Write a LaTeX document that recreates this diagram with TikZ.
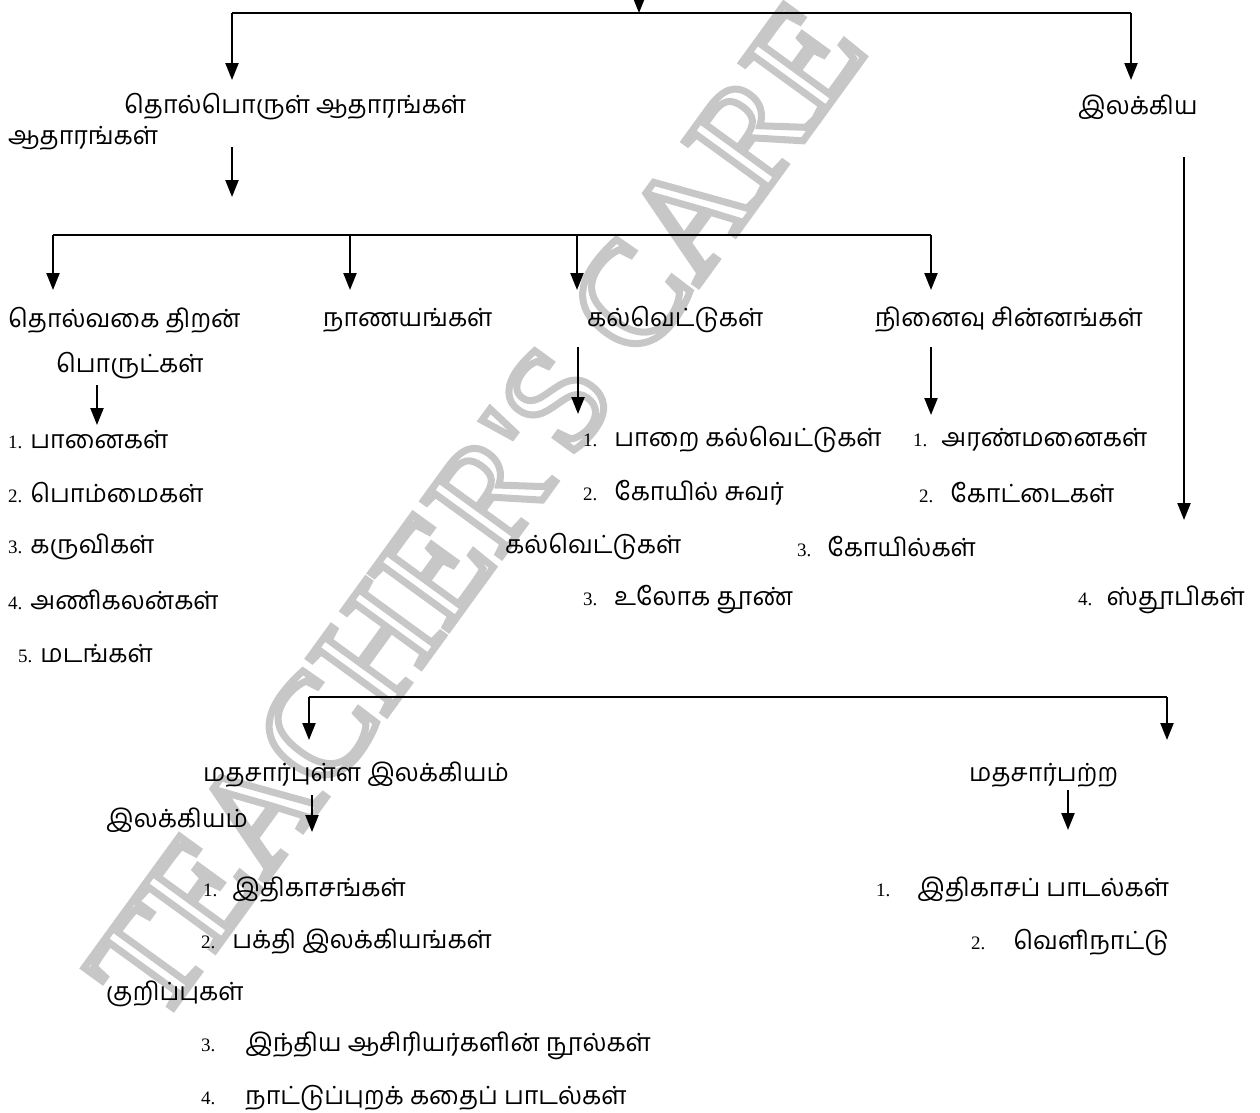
\documentclass[tikz,border=0pt]{standalone}
\usepackage{fontspec}
\setmainfont{Liberation Serif}
\newfontfamily\tamil[Script=Tamil]{Hind Madurai}
\newfontfamily\numfnt{Liberation Serif}
\newfontfamily\wmfnt{Liberation Serif}
\usetikzlibrary{arrows.meta}
\tikzset{
  lbl/.style={anchor=west, inner sep=0pt, font=\tamil\fontsize{25}{29}\selectfont},
  arr/.style={line width=2.2pt, -{Triangle[length=17pt,width=13pt]}},
  bar/.style={line width=2.2pt},
  wmark/.style={rotate=54, text=black!22, inner sep=0pt, font=\wmfnt\fontsize{146}{146}\selectfont},
}
\newcommand\nm[2][10pt]{{\numfnt\fontsize{19}{21}\selectfont #2}\hspace{#1}}
\begin{document}
\begin{tikzpicture}[x=1pt,y=-1pt]
  \useasboundingbox (0,0) rectangle (1260,1112);
  % Watermark
  \node[wmark] (wm) at (476,510) {\special{pdf:literal direct 1 Tr 7 w}TEACHER'S CARE};
  % Top level
  \coordinate (src) at (639,-20);
  \coordinate (srcend) at (639,13);
  \coordinate (b1l) at (232,13);
  \coordinate (b1r) at (1131,13);
  \coordinate (b1lend) at (232,80);
  \coordinate (b1rend) at (1131,80);
  \draw[arr] (src) -- (srcend);
  \draw[bar] (b1l) -- (b1r);
  \draw[arr] (b1l) -- (b1lend);
  \draw[arr] (b1r) -- (b1rend);
  \node[lbl] (thol) at (124,107) {தொல்பொருள் ஆதாரங்கள்};
  \node[lbl] (thola) at (8,138) {ஆதாரங்கள்};
  \node[lbl] (ilak) at (1078,107) {இலக்கிய};
  \coordinate (tholdown) at (232,147);
  \coordinate (tholend) at (232,197);
  \draw[arr] (tholdown) -- (tholend);
  \coordinate (ilakdown) at (1184,157);
  \coordinate (ilakend) at (1184,520);
  \draw[arr] (ilakdown) -- (ilakend);
  % Archaeological sources
  \coordinate (b2l) at (53,235);
  \coordinate (b2a) at (350,235);
  \coordinate (b2b) at (577,235);
  \coordinate (b2r) at (931,235);
  \draw[bar] (b2l) -- (b2r);
  \foreach \c/\x in {b2l/53,b2a/350,b2b/577,b2r/931}{
    \coordinate (\c end) at (\x,290);
    \draw[arr] (\c) -- (\c end);
  }
  \node[lbl] (tholvagai) at (8,320) {தொல்வகை திறன்};
  \node[lbl] (nanayam) at (323,320) {நாணயங்கள்};
  \node[lbl] (kalvettu) at (587,320) {கல்வெட்டுகள்};
  \node[lbl] (ninaivu) at (875,320) {நினைவு சின்னங்கள்};
  \node[lbl] (porul) at (56,366) {பொருட்கள்};
  \coordinate (poruldown) at (97,385);
  \coordinate (porulend) at (97,425);
  \draw[arr] (poruldown) -- (porulend);
  \coordinate (kaldown) at (578,347);
  \coordinate (kalend) at (578,414);
  \draw[arr] (kaldown) -- (kalend);
  \coordinate (ninaidown) at (931,347);
  \coordinate (ninaiend) at (931,415);
  \draw[arr] (ninaidown) -- (ninaiend);
  % Lists
  \node[lbl] (pa1) at (8,440) {\nm[8pt]{1.}பானைகள்};
  \node[lbl] (pa2) at (8,493) {\nm[8pt]{2.}பொம்மைகள்};
  \node[lbl] (pa3) at (8,547) {\nm[8pt]{3.}கருவிகள்};
  \node[lbl] (pa4) at (8,600) {\nm[8pt]{4.}அணிகலன்கள்};
  \node[lbl] (pa5) at (18,654) {\nm[8pt]{5.}மடங்கள்};
  \node[lbl] (ka1) at (583,440) {\nm[17pt]{1.}பாறை கல்வெட்டுகள்};
  \node[lbl] (ka2) at (583,493) {\nm[17pt]{2.}கோயில் சுவர்};
  \node[lbl] (ka2b) at (505,547) {கல்வெட்டுகள்};
  \node[lbl] (ka3) at (583,600) {\nm[17pt]{3.}உலோக தூண்};
  \node[lbl] (ni1) at (913,440) {\nm[14pt]{1.}அரண்மனைகள்};
  \node[lbl] (ni2) at (919,493) {\nm[17pt]{2.}கோட்டைகள்};
  \node[lbl] (ni3) at (797,547) {\nm[16pt]{3.}கோயில்கள்};
  \node[lbl] (ni4) at (1078,600) {\nm[14pt]{4.}ஸ்தூபிகள்};
  % Literary sources
  \coordinate (b3l) at (309,697);
  \coordinate (b3r) at (1167,697);
  \coordinate (b3lend) at (309,740);
  \coordinate (b3rend) at (1167,740);
  \draw[bar] (b3l) -- (b3r);
  \draw[arr] (b3l) -- (b3lend);
  \draw[arr] (b3r) -- (b3rend);
  \node[lbl] (matham) at (203,775) {மதசார்புள்ள இலக்கியம்};
  \node[lbl] (mathamb) at (106,820) {இலக்கியம்};
  \node[lbl] (mathaparra) at (969,775) {மதசார்பற்ற};
  \coordinate (mathdown) at (312,795);
  \coordinate (mathend) at (312,832);
  \draw[arr] (mathdown) -- (mathend);
  \coordinate (parradown) at (1068,790);
  \coordinate (parraend) at (1068,830);
  \draw[arr] (parradown) -- (parraend);
  \node[lbl] (ma1) at (203,890) {\nm[15pt]{1.}இதிகாசங்கள்};
  \node[lbl] (ma2) at (201,942) {\nm[17pt]{2.}பக்தி இலக்கியங்கள்};
  \node[lbl] (ma2b) at (106,994) {குறிப்புகள்};
  \node[lbl] (ma3) at (201,1046) {\nm[30pt]{3.}இந்திய ஆசிரியர்களின் நூல்கள்};
  \node[lbl] (ma4) at (201,1098) {\nm[30pt]{4.}நாட்டுப்புறக் கதைப் பாடல்கள்};
  \node[lbl] (pr1) at (876,890) {\nm[27pt]{1.}இதிகாசப் பாடல்கள்};
  \node[lbl] (pr2) at (971,942) {\nm[28pt]{2.}வெளிநாட்டு};
\end{tikzpicture}
\end{document}
